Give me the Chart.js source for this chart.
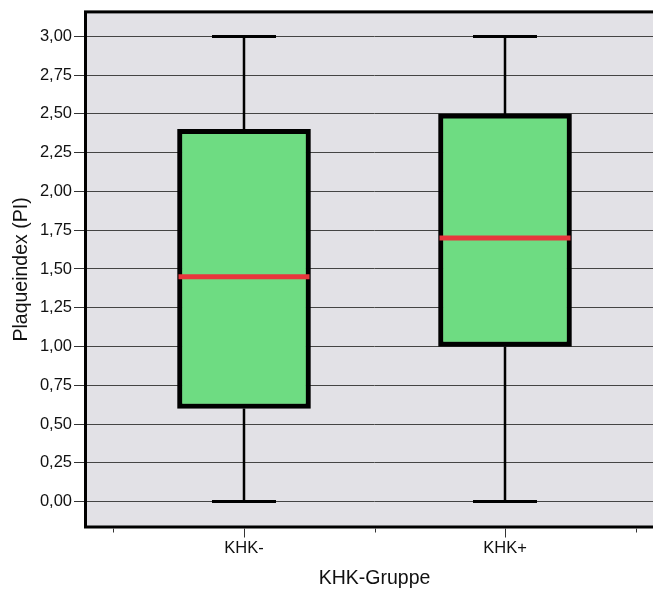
<!DOCTYPE html>
<html>
<head>
<meta charset="utf-8">
<script src="https://cdn.jsdelivr.net/npm/chart.js@4"></script>
<style>
  html, body { margin: 0; padding: 0; background: #fff; overflow: hidden; }
  #wrap { width: 670px; height: 590px; }
</style>
</head>
<body>
<div id="wrap"><canvas id="plaqueChart" width="670" height="590"></canvas></div>
<script>
// Gruppen und Kennwerte der Boxplots (Plaqueindex)
const groups = ['KHK-', 'KHK+'];
const minValues = [0.00, 0.00];
const q1Values = [0.60, 1.00];
const medianValues = [1.45, 1.70];
const q3Values = [2.40, 2.50];
const maxValues = [3.00, 3.00];

// Achsenbeschriftung
const yTicks = [0, 0.25, 0.5, 0.75, 1, 1.25, 1.5, 1.75, 2, 2.25, 2.5, 2.75, 3];
const xTicks = [-0.5, 0, 0.5, 1, 1.5];

const FONT = '"Liberation Sans", Arial, sans-serif';

// Hintergrund, Rahmen und Whisker/Median zeichnen
const boxplotPlugin = {
    id: 'boxplotExtras',
    beforeDraw(chart) {
        const { ctx, chartArea: a } = chart;
        ctx.save();
        ctx.fillStyle = '#e2e1e6';
        ctx.fillRect(a.left, a.top, a.right - a.left, a.bottom - a.top);
        ctx.restore();
    },
    beforeDatasetsDraw(chart) {
        const { ctx, scales: { x, y } } = chart;
        ctx.save();
        ctx.strokeStyle = '#000';
        groups.forEach((g, i) => {
            const cx = x.getPixelForValue(i);
            ctx.lineWidth = 2.5;
            ctx.beginPath();
            ctx.moveTo(cx, y.getPixelForValue(maxValues[i]));
            ctx.lineTo(cx, y.getPixelForValue(q3Values[i]));
            ctx.moveTo(cx, y.getPixelForValue(q1Values[i]));
            ctx.lineTo(cx, y.getPixelForValue(minValues[i]));
            ctx.stroke();
            // Querstriche
            ctx.lineWidth = 3;
            ctx.beginPath();
            [maxValues[i], minValues[i]].forEach(v => {
                const py = y.getPixelForValue(v);
                ctx.moveTo(cx - 32, py);
                ctx.lineTo(cx + 32, py);
            });
            ctx.stroke();
        });
        ctx.restore();
    },
    afterDatasetsDraw(chart) {
        const { ctx, scales: { y } } = chart;
        const meta = chart.getDatasetMeta(0);
        ctx.save();
        ctx.strokeStyle = '#e8363c';
        ctx.lineWidth = 5;
        groups.forEach((g, i) => {
            const bar = meta.data[i];
            const half = bar.width / 2;
            const py = y.getPixelForValue(medianValues[i]);
            ctx.beginPath();
            ctx.moveTo(bar.x - half + 1, py);
            ctx.lineTo(bar.x + half - 1, py);
            ctx.stroke();
        });
        ctx.restore();
    },
    afterDraw(chart) {
        const { ctx, chartArea: a, scales: { x } } = chart;
        ctx.save();
        // Rahmen des Plotbereichs
        ctx.strokeStyle = '#000';
        ctx.lineWidth = 3;
        ctx.strokeRect(a.left + 1.5, a.top, a.right - a.left, a.bottom - a.top);
        // Tickmarken der x-Achse (lang bei Gruppen, kurz dazwischen)
        ctx.strokeStyle = '#333';
        ctx.lineWidth = 1;
        ctx.beginPath();
        xTicks.forEach(v => {
            const px = Math.round(x.getPixelForValue(v)) + 0.5;
            const len = Number.isInteger(v) ? 9 : 4;
            ctx.moveTo(px, a.bottom + 1.5);
            ctx.lineTo(px, a.bottom + 1.5 + len);
        });
        ctx.stroke();
        ctx.restore();
    }
};

const ctx = document.getElementById('plaqueChart').getContext('2d');
new Chart(ctx, {
    type: 'bar',
    data: {
        datasets: [{
            data: groups.map((g, i) => ({ x: i, y: [q1Values[i], q3Values[i]] })),
            backgroundColor: '#6edc82',
            borderColor: '#000',
            borderWidth: 5,
            borderSkipped: false,
            barThickness: 133
        }]
    },
    options: {
        responsive: false,
        animation: false,
        events: [],
        layout: { padding: { top: 10, right: 5, left: 0, bottom: 0 } },
        plugins: {
            legend: { display: false },
            tooltip: { enabled: false }
        },
        scales: {
            x: {
                type: 'linear',
                offset: false,
                min: -0.613,
                max: 1.613,
                afterBuildTicks(scale) {
                    scale.ticks = xTicks.map(v => ({ value: v }));
                },
                afterFit(scale) { scale.height = 63; },
                grid: { display: false },
                border: { display: false },
                ticks: {
                    padding: 4,
                    color: '#111',
                    font: { family: FONT, size: 16.5 },
                    callback: v => (Number.isInteger(v) && groups[v] !== undefined) ? groups[v] : ''
                },
                title: {
                    display: true,
                    text: 'KHK-Gruppe',
                    color: '#111',
                    font: { family: FONT, size: 19.5 },
                    padding: { top: 2, bottom: 0 }
                }
            },
            y: {
                min: -0.164,
                max: 3.158,
                afterBuildTicks(scale) {
                    scale.ticks = yTicks.map(v => ({ value: v }));
                },
                afterFit(scale) { scale.width = 84; },
                border: { display: false },
                grid: {
                    color: '#444',
                    lineWidth: 1,
                    tickLength: 10,
                    tickColor: '#333'
                },
                ticks: {
                    padding: 2,
                    color: '#111',
                    font: { family: FONT, size: 16.5 },
                    callback: v => v.toFixed(2).replace('.', ',')
                },
                title: {
                    display: true,
                    text: 'Plaqueindex (PI)',
                    color: '#111',
                    font: { family: FONT, size: 19.5 },
                    padding: { top: 10, bottom: 2 }
                }
            }
        }
    },
    plugins: [boxplotPlugin]
});
</script>
</body>
</html>
